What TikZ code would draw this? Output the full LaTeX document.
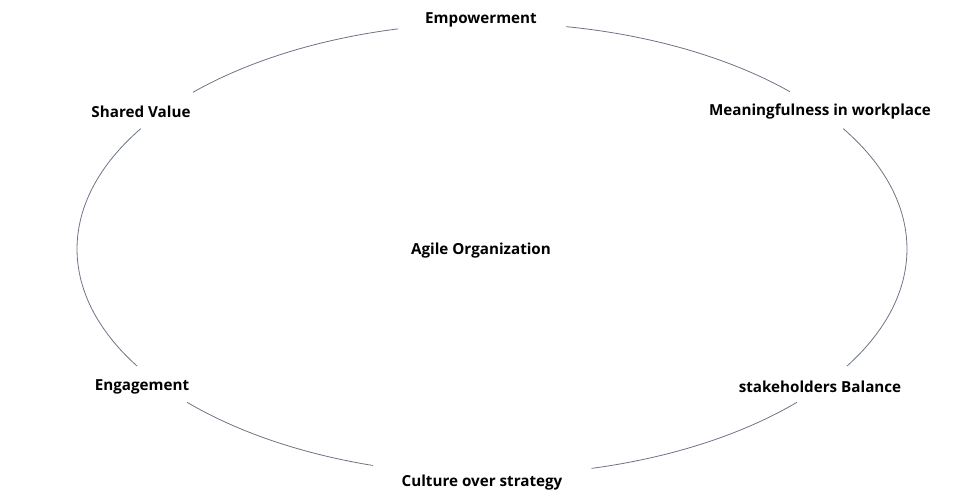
\documentclass[tikz,border=0pt]{standalone}
\usepackage{fontspec}
\setmainfont{Open Sans}
\definecolor{arcline}{RGB}{108,116,132}
\begin{document}
\begin{tikzpicture}[x=1pt,y=1pt,
  lbl/.style={font=\bfseries\fontsize{15.2}{18}\selectfont, text=black, inner sep=0pt},
  ring/.style={draw=arcline, line width=0.8pt}]
\useasboundingbox (0,0) rectangle (962,-500);
\coordinate (c) at (492,-249);
\node[lbl] (emp) at (481,-20) {Empowerment};
\node[lbl] (sv) at (141,-112) {Shared Value};
\node[lbl] (mw) at (820,-112) {Meaningfulness in workplace};
\node[lbl] (ao) at (481,-251) {Agile Organization};
\node[lbl] (eng) at (142,-387) {Engagement};
\node[lbl] (sb) at (820,-387) {stakeholders Balance};
\node[lbl] (cos) at (482,-483) {Culture over strategy};
\def\rx{415}\def\ry{226}
\foreach \a/\b in {79.7/44.1, 32.2/-31.2, -42.7/-76.1, 253.3/222.7, 211.2/147.8, 136.1/103.1}{
  \draw[ring] ([shift={(c)}]\a:\rx pt and \ry pt) arc[start angle=\a, end angle=\b, x radius=\rx pt, y radius=\ry pt];
}
\end{tikzpicture}
\end{document}
